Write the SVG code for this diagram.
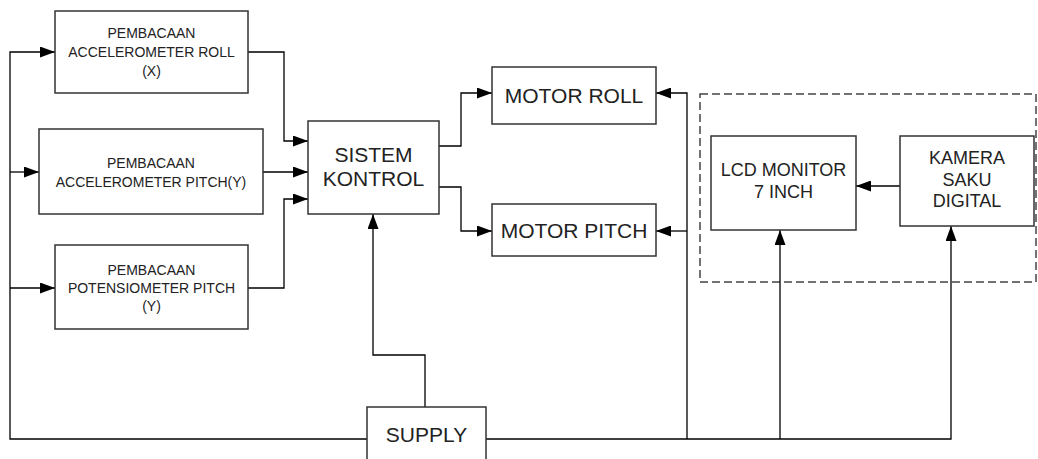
<svg xmlns="http://www.w3.org/2000/svg" width="1038" height="459" viewBox="0 0 1038 459">
<defs>
<marker id="ah" viewBox="0 0 15 11" refX="15" refY="5.5" markerWidth="15" markerHeight="11" markerUnits="userSpaceOnUse" orient="auto">
<path d="M0,0 L15,5.5 L0,11 z" fill="#000"/>
</marker>
<style>
.box{fill:#fff;stroke:#333;stroke-width:1.5}
.c{fill:none;stroke:#000;stroke-width:1.3}
.a{marker-end:url(#ah)}
.t{font-family:"Liberation Sans",Arial,sans-serif;fill:#222;text-anchor:middle;dominant-baseline:central}
.s{font-size:14px}
.m{font-size:18px}
.l{font-size:21px}
.dash{fill:none;stroke:#444;stroke-width:1.5;stroke-dasharray:8 4}
</style>
</defs>
<rect width="1038" height="459" fill="#fff"/>
<rect class="dash" x="700" y="94" width="336" height="188"/>
<g id="connectors">
<path class="c a" d="M367,439 L10,439 L10,52 L55,52"/>
<path class="c a" d="M10,172 L39,172"/>
<path class="c a" d="M10,288 L55,288"/>
<path class="c a" d="M248,52 L284,52 L284,141 L308,141"/>
<path class="c a" d="M263,172 L308,172"/>
<path class="c a" d="M248,288 L284,288 L284,199 L308,199"/>
<path class="c a" d="M439,146 L461,146 L461,93 L492,93"/>
<path class="c a" d="M439,187 L461,187 L461,231 L492,231"/>
<path class="c a" d="M425,407 L425,355 L373,355 L373,214"/>
<path class="c a" d="M486,439 L951,439 L951,226"/>
<path class="c a" d="M687,439 L687,93 L656,93"/>
<path class="c a" d="M687,231 L656,231"/>
<path class="c a" d="M780,439 L780,230"/>
<path class="c a" d="M900,186 L856,186"/>
</g>
<g id="acc-roll">
<rect class="box" x="55" y="11" width="193" height="82"/>
<text class="t s" x="151.5" y="33">PEMBACAAN</text>
<text class="t s" x="151.5" y="52">ACCELEROMETER ROLL</text>
<text class="t s" x="151.5" y="71">(X)</text>
</g>
<g id="acc-pitch">
<rect class="box" x="39" y="129" width="224" height="85"/>
<text class="t s" x="151" y="163">PEMBACAAN</text>
<text class="t s" x="151" y="182">ACCELEROMETER PITCH(Y)</text>
</g>
<g id="pot-pitch">
<rect class="box" x="55" y="245" width="193" height="84"/>
<text class="t s" x="151.5" y="270">PEMBACAAN</text>
<text class="t s" x="151.5" y="288">POTENSIOMETER PITCH</text>
<text class="t s" x="151.5" y="306">(Y)</text>
</g>
<g id="sistem-kontrol">
<rect class="box" x="308" y="121" width="131" height="93"/>
<text class="t l" x="373.5" y="154">SISTEM</text>
<text class="t l" x="373.5" y="178">KONTROL</text>
</g>
<g id="motor-roll">
<rect class="box" x="492" y="67" width="164" height="57"/>
<text class="t l" x="574" y="95">MOTOR ROLL</text>
</g>
<g id="motor-pitch">
<rect class="box" x="492" y="204" width="164" height="52"/>
<text class="t l" x="574" y="230">MOTOR PITCH</text>
</g>
<g id="lcd">
<rect class="box" x="711" y="136" width="145" height="94"/>
<text class="t m" x="783.5" y="170">LCD MONITOR</text>
<text class="t m" x="783.5" y="192">7 INCH</text>
</g>
<g id="kamera">
<rect class="box" x="900" y="136" width="134" height="90"/>
<text class="t m" x="967" y="158">KAMERA</text>
<text class="t m" x="967" y="180">SAKU</text>
<text class="t m" x="967" y="201">DIGITAL</text>
</g>
<g id="supply">
<rect class="box" x="367" y="407" width="119" height="60"/>
<text class="t l" x="426.5" y="434">SUPPLY</text>
</g>
</svg>
